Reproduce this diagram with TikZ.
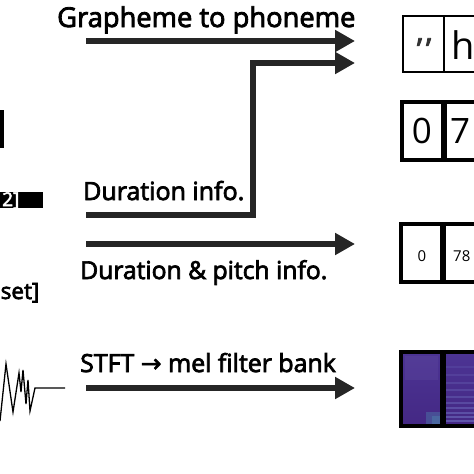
\documentclass[tikz,border=0pt]{standalone}
\usepackage{fontspec}
\setmainfont{Open Sans}[FakeBold=3]
\newfontfamily\plainfont{Open Sans}
\newfontfamily\symfont{DejaVu Sans}[FakeBold=2]
\usetikzlibrary{arrows.meta}
\definecolor{arrowc}{RGB}{38,38,38}
\definecolor{specA}{RGB}{68,40,132}
\definecolor{specB}{RGB}{76,52,148}
\definecolor{streak}{RGB}{110,110,190}
\definecolor{teal}{RGB}{80,150,180}
\begin{document}
\begin{tikzpicture}[x=1pt,y=-1pt,
  arr/.style={line width=6pt, draw=arrowc, line join=miter, -{Triangle[length=20pt,width=21pt]}},
  lbl/.style={inner sep=0pt, anchor=base west},
  thincell/.style={draw=black, line width=1.2pt, inner sep=0pt},
  thickcell/.style={draw=black, line width=4pt, inner sep=0pt},
  celltext/.style={inner sep=0pt}
]
\clip (0,0) rectangle (474,474);
\fill[white] (0,0) rectangle (474,474);

% left side fragments
\fill[black] (0,110) rectangle (4,148);
\node[fill=black, inner sep=0pt, anchor=north west, minimum width=43pt, minimum height=16pt] (twobox) at (0,192) {};
\node[lbl, text=white, font=\fontsize{19}{19}\selectfont] (two) at (2,206) {2]};
\node[lbl, font=\fontsize{22.5}{22.5}\selectfont] (setb) at (0.5,299) {set]};
\draw[line width=1.3pt, line join=miter] (0,421) -- (6,364) -- (13,412) -- (19,373) -- (21,392) -- (23,370) -- (26,404) -- (28,380) -- (30,411) -- (35,388) -- (65,388);

% labels
\node[lbl, font=\fontsize{27.3}{27.3}\selectfont] (g2p) at (57,27) {Grapheme to phoneme};
\node[lbl, font=\fontsize{25}{25}\selectfont] (dur) at (83,200) {Duration info.};
\node[lbl, font=\fontsize{24.7}{24.7}\selectfont] (durp) at (80,279) {Duration \& pitch info.};
\node[lbl, font=\fontsize{24.9}{24.9}\selectfont] (stft) at (80,372) {STFT {\symfont →} mel filter bank};

% arrow endpoints
\coordinate (a1s) at (86,41);
\coordinate (a1e) at (355,41);
\coordinate (a2s) at (86,215);
\coordinate (a2c) at (253,215);
\coordinate (a2u) at (253,63);
\coordinate (a2e) at (355,63);
\coordinate (a3s) at (86,244);
\coordinate (a3e) at (355,244);
\coordinate (a4s) at (86,388);
\coordinate (a4e) at (355,388);

\draw[arr] (a1s) -- (a1e);
\draw[arr] (a2s) -- (a2c) -- (a2u) -- (a2e);
\draw[arr] (a3s) -- (a3e);
\draw[arr] (a4s) -- (a4e);

% box 1: phonemes
\node[thincell, minimum width=41pt, minimum height=56pt] (b1a) at (423.5,44) {};
\node[thincell, minimum width=80pt, minimum height=56pt, anchor=west] (b1b) at (444,44) {};
\node[celltext, font=\fontsize{30}{30}\selectfont, text=black!80] (q1) at (424,49) {’\kern4pt’};
\node[celltext, font=\plainfont\fontsize{38}{38}\selectfont, anchor=base west] (h1) at (451,59) {h};

% box 2: durations
\node[thickcell, minimum width=41pt, minimum height=58pt] (b2a) at (422.5,131) {};
\node[thickcell, minimum width=80pt, minimum height=58pt, anchor=west] (b2b) at (443,131) {};
\node[celltext, font=\plainfont\fontsize{35}{35}\selectfont, anchor=base] (z2) at (422,143) {0};
\node[celltext, font=\plainfont\fontsize{35}{35}\selectfont, anchor=base west] (s2) at (450,143) {7};

% box 3: duration & pitch
\node[thickcell, minimum width=41pt, minimum height=58pt] (b3a) at (421.5,253) {};
\node[thickcell, minimum width=80pt, minimum height=58pt, anchor=west] (b3b) at (442,253) {};
\node[celltext, font=\plainfont\fontsize{15}{15}\selectfont, anchor=base] (z3) at (422,261) {0};
\node[celltext, font=\plainfont\fontsize{15}{15}\selectfont, anchor=base west] (s3) at (453,261) {78};

% box 4: mel spectrogram
\shade[top color=specB, bottom color=specA] (401,352) rectangle (480,426);
\fill[specB!80!white, opacity=0.2] (405,356) rectangle (438,380);
\fill[teal, opacity=0.35] (426,412) rectangle (441,424);
\fill[teal, opacity=0.35] (432,416) rectangle (441,424);
\foreach \yy/\op in {366/0.2,374/0.25,382/0.3,389/0.35,396/0.4,402/0.45,407/0.5,412/0.55,416/0.6,420/0.65}{
  \fill[streak, opacity=\op] (444,\yy) rectangle (480,\yy+1.6);
}
\node[thickcell, minimum width=41pt, minimum height=74pt] (b4a) at (421.5,389) {};
\node[thickcell, minimum width=80pt, minimum height=74pt, anchor=west] (b4b) at (442,389) {};
\end{tikzpicture}
\end{document}
